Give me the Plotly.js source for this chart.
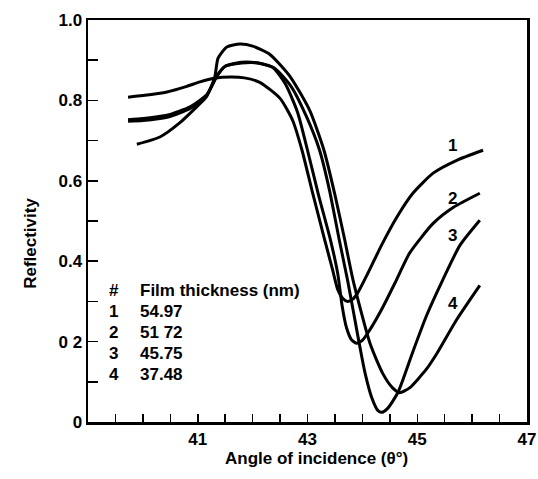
<!DOCTYPE html>
<html>
<head>
<meta charset="utf-8">
<script src="https://cdn.plot.ly/plotly-3.0.1.min.js"></script>
<style>html,body{margin:0;padding:0;background:#fff;}#chart{width:538px;height:479px;}</style>
</head>
<body>
<div id="chart"></div>
<script>
// Curve 1: film thickness 54.97 nm
const angle1 = [39.73, 40.0, 40.44, 40.8, 41.04, 41.3, 41.6, 41.85, 42.13, 42.5, 42.73, 42.9, 43.08, 43.3, 43.46, 43.55, 43.64, 43.73, 43.82, 43.91, 44.1, 44.35, 44.63, 44.92, 45.29, 45.72, 46.2];
const refl1  = [0.808, 0.812, 0.821, 0.835, 0.846, 0.855, 0.858, 0.856, 0.845, 0.805, 0.75, 0.676, 0.577, 0.46, 0.377, 0.33, 0.308, 0.300, 0.305, 0.32, 0.37, 0.44, 0.51, 0.569, 0.619, 0.651, 0.676];
// Curve 2: 51.72 nm
const angle2 = [39.73, 40.0, 40.44, 40.86, 41.17, 41.35, 41.5, 41.8, 42.1, 42.37, 42.6, 42.82, 43.0, 43.2, 43.42, 43.55, 43.63, 43.71, 43.8, 43.89, 44.0, 44.13, 44.37, 44.62, 44.86, 45.29, 45.66, 46.14];
const refl2  = [0.752, 0.755, 0.763, 0.784, 0.815, 0.86, 0.885, 0.893, 0.893, 0.882, 0.84, 0.77, 0.676, 0.565, 0.452, 0.37, 0.29, 0.235, 0.205, 0.196, 0.203, 0.228, 0.285, 0.353, 0.42, 0.494, 0.534, 0.569];
// Curve 3: 45.75 nm
const angle3 = [39.73, 40.0, 40.44, 40.86, 41.17, 41.35, 41.5, 41.8, 42.1, 42.4, 42.7, 42.98, 43.22, 43.4, 43.58, 43.73, 43.95, 44.05, 44.17, 44.28, 44.35, 44.46, 44.65, 44.92, 45.17, 45.47, 45.78, 46.14];
const refl3  = [0.748, 0.750, 0.758, 0.780, 0.815, 0.862, 0.885, 0.895, 0.893, 0.88, 0.835, 0.76, 0.676, 0.577, 0.452, 0.353, 0.19, 0.121, 0.061, 0.029, 0.024, 0.034, 0.074, 0.175, 0.265, 0.355, 0.44, 0.502];
// Curve 4: 37.48 nm
const angle4 = [39.89, 40.31, 40.67, 40.98, 41.16, 41.31, 41.37, 41.53, 41.77, 42.0, 42.31, 42.68, 43.04, 43.3, 43.5, 43.68, 43.83, 44.14, 44.37, 44.55, 44.68, 44.86, 45.17, 45.36, 45.72, 46.14];
const refl4  = [0.691, 0.709, 0.744, 0.784, 0.809, 0.858, 0.905, 0.933, 0.940, 0.935, 0.915, 0.86, 0.775, 0.676, 0.565, 0.452, 0.353, 0.195, 0.121, 0.085, 0.073, 0.085, 0.132, 0.171, 0.255, 0.34];

const curveIds = ["1", "2", "3", "4"];
const thickness = ["54.97", "51 72", "45.75", "37.48"];
const legendHeader = ["#", "Film thickness (nm)"];
// curve label anchor positions (angle, reflectivity)
const labelAngle = [45.65, 45.65, 45.65, 45.65];
const labelRefl  = [0.689, 0.557, 0.465, 0.295];

const xTickVals = [39.5, 40, 40.5, 41, 41.5, 42, 42.5, 43, 43.5, 44, 44.5, 45, 45.5, 46, 46.5, 47];
const xTickText = ["", "", "", "41", "", "", "", "43", "", "", "", "45", "", "", "", "47"];
const yTickVals = [0, 0.1, 0.2, 0.3, 0.4, 0.5, 0.6, 0.7, 0.8, 0.9, 1.0];
const yTickText = ["0", "", "0 2", "", "0.4", "", "0.6", "", "0.8", "", "1.0"];

const FONT = "Liberation Sans, Arial, Helvetica, sans-serif";
const xs = [angle1, angle2, angle3, angle4];
const ys = [refl1, refl2, refl3, refl4];
const traces = xs.map((x, i) => ({
  x: x, y: ys[i], type: "scatter", mode: "lines",
  line: {color: "#000", width: 3, shape: "spline", smoothing: 0.6},
  hoverinfo: "skip", showlegend: false
}));

const annotations = [];
const boldFont = {family: FONT, size: 17, color: "#000", weight: "bold"};
// curve number labels
curveIds.forEach((id, i) => {
  annotations.push({x: labelAngle[i], y: labelRefl[i], xref: "x", yref: "y", text: id,
    showarrow: false, font: boldFont});
});
// legend block (positions in pixels, converted to paper fractions)
const L = 88.3, R = 11, T = 20, B = 57.3, W = 538, H = 479;
const plotW = W - L - R, plotH = H - T - B;
const px2fx = px => (px - L) / plotW;
const py2fy = py => (H - B - py) / plotH;
const rowY0 = 301.7, rowDy = 21;
annotations.push({x: px2fx(114), y: py2fy(rowY0), xref: "paper", yref: "paper", text: legendHeader[0], showarrow: false, xanchor: "center", font: boldFont});
annotations.push({x: px2fx(138), y: py2fy(rowY0), xref: "paper", yref: "paper", text: legendHeader[1], showarrow: false, xanchor: "left", font: boldFont});
curveIds.forEach((id, i) => {
  annotations.push({x: px2fx(114), y: py2fy(rowY0 + rowDy * (i + 1)), xref: "paper", yref: "paper", text: id, showarrow: false, xanchor: "center", font: boldFont});
  annotations.push({x: px2fx(138), y: py2fy(rowY0 + rowDy * (i + 1)), xref: "paper", yref: "paper", text: thickness[i], showarrow: false, xanchor: "left", font: boldFont});
});
// axis titles
annotations.push({x: px2fx(316.5), y: py2fy(470), xref: "paper", yref: "paper",
  text: "Angle of incidence (θ°)", showarrow: false, font: boldFont});
annotations.push({x: px2fx(20), y: py2fy(243.5), xref: "paper", yref: "paper",
  text: "Reflectivity", textangle: -90, showarrow: false, font: boldFont});

const layout = {
  width: W, height: H,
  margin: {l: L, r: R, t: T, b: B, pad: 0},
  paper_bgcolor: "#fff", plot_bgcolor: "#fff",
  font: boldFont,
  xaxis: {
    range: [39, 47], showgrid: false, zeroline: false,
    showline: true, mirror: true, linecolor: "#000", linewidth: 2.5,
    ticks: "inside", ticklen: 8, tickwidth: 1.5, tickcolor: "#000",
    tickmode: "array", tickvals: xTickVals, ticktext: xTickText,
    tickfont: boldFont
  },
  yaxis: {
    range: [0, 1], showgrid: false, zeroline: false,
    showline: true, mirror: true, linecolor: "#000", linewidth: 2.5,
    ticks: "inside", ticklen: 10, tickwidth: 1.5, tickcolor: "#000",
    tickmode: "array", tickvals: yTickVals, ticktext: yTickText,
    tickfont: boldFont
  },
  annotations: annotations,
  showlegend: false
};
Plotly.newPlot("chart", traces, layout, {displayModeBar: false, staticPlot: true});
</script>
</body>
</html>
